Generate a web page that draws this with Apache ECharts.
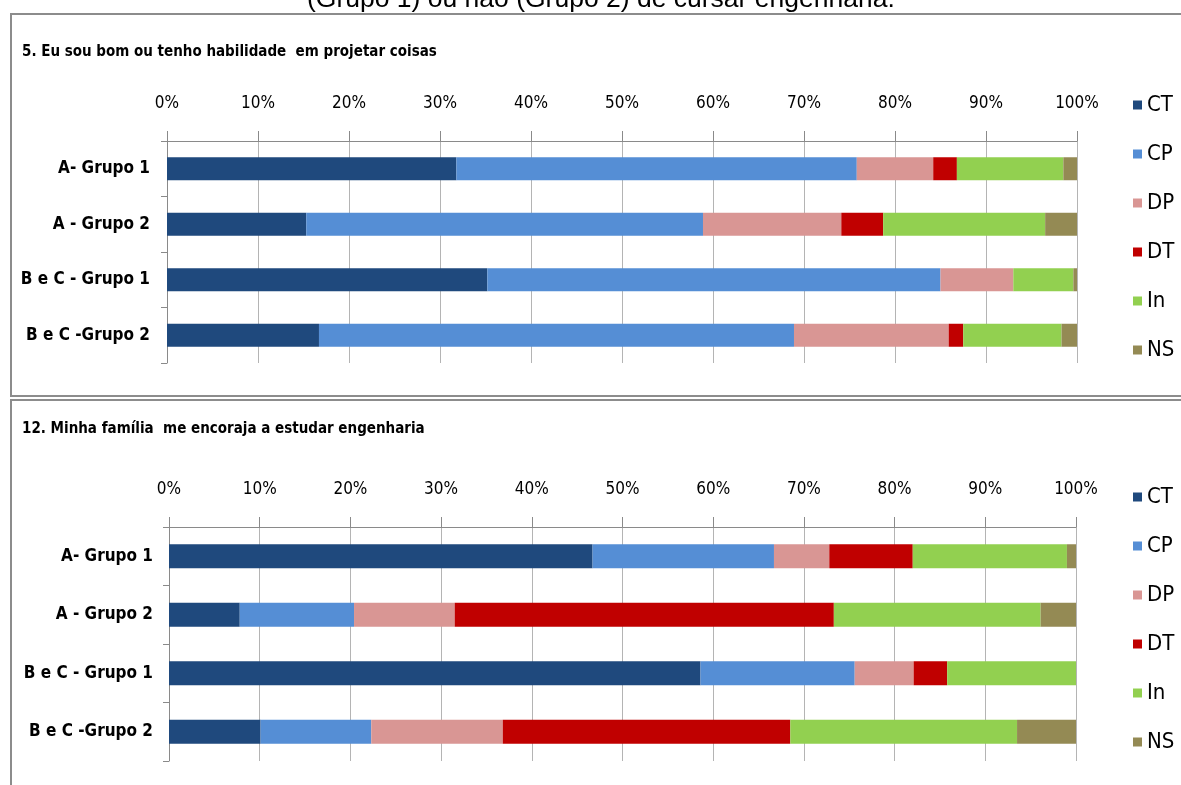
<!DOCTYPE html>
<html>
<head>
<meta charset="utf-8">
<script src="https://cdn.jsdelivr.net/npm/echarts@6/dist/echarts.min.js"></script>
<style>
  html, body { margin: 0; padding: 0; background: #fff; }
  #chart { width: 1181px; height: 785px; }
</style>
</head>
<body>
<div id="chart"></div>
<script>
// Groups (rows, top to bottom) and answer categories (stack order)
const categories = ['A- Grupo 1', 'A - Grupo 2', 'B e C - Grupo 1', 'B e C -Grupo 2'];
const answers = ['CT', 'CP', 'DP', 'DT', 'In', 'NS'];
const tickLabels = ['0%', '10%', '20%', '30%', '40%', '50%', '60%', '70%', '80%', '90%', '100%'];

// 5. Eu sou bom ou tenho habilidade em projetar coisas (% per group)
const q5CT = [31.8, 15.3, 35.2, 16.7];
const q5CP = [44.0, 43.6, 49.8, 52.2];
const q5DP = [8.4, 15.2, 8.0, 17.0];
const q5DT = [2.6, 4.6, 0.0, 1.6];
const q5In = [11.7, 17.8, 6.6, 10.8];
const q5NS = [1.5, 3.5, 0.4, 1.7];

// 12. Minha família me encoraja a estudar engenharia (% per group)
const q12CT = [46.7, 7.8, 58.6, 10.1];
const q12CP = [20.0, 12.6, 17.0, 12.2];
const q12DP = [6.1, 11.1, 6.5, 14.5];
const q12DT = [9.2, 41.8, 3.7, 31.7];
const q12In = [17.0, 22.8, 14.2, 25.0];
const q12NS = [1.0, 3.9, 0.0, 6.5];

const colors = {
  CT: '#1F497D',
  CP: '#558ED5',
  DP: '#D99694',
  DT: '#C00000',
  In: '#92D050',
  NS: '#948A54'
};

const narrow = '"DejaVu Sans Condensed", "Liberation Sans Narrow", "Liberation Sans", Arial, sans-serif';

const q5 = [q5CT, q5CP, q5DP, q5DT, q5In, q5NS];
const q12 = [q12CT, q12CP, q12DP, q12DT, q12In, q12NS];

function xAxisFor(gridIndex) {
  return {
    type: 'value',
    gridIndex: gridIndex,
    position: 'top',
    min: 0,
    max: 100,
    interval: 10,
    axisLine: { show: true, lineStyle: { color: '#8a8a8a', width: 1 } },
    axisTick: { show: true, length: 10, lineStyle: { color: '#8a8a8a' } },
    axisLabel: {
      margin: 29,
      color: '#000',
      fontFamily: narrow,
      fontSize: 17,
      formatter: function (v) { return tickLabels[Math.round(v / 10)]; }
    },
    splitLine: { show: true, lineStyle: { color: '#b4b4b4', width: 1 } }
  };
}

function yAxisFor(gridIndex, margin) {
  return {
    type: 'category',
    gridIndex: gridIndex,
    data: categories,
    inverse: true,
    axisLine: { show: true, lineStyle: { color: '#8a8a8a', width: 1 } },
    axisTick: { show: true, length: 6, lineStyle: { color: '#8a8a8a' } },
    axisLabel: {
      margin: margin,
      color: '#000',
      fontFamily: narrow,
      fontWeight: 'bold',
      fontSize: 17
    },
    splitLine: { show: false }
  };
}

function seriesFor(values, gridIndex, barWidth) {
  return answers.map(function (name, i) {
    return {
      name: name,
      type: 'bar',
      stack: 'g' + gridIndex,
      xAxisIndex: gridIndex,
      yAxisIndex: gridIndex,
      barWidth: barWidth,
      data: values[i],
      itemStyle: { color: colors[name] },
      emphasis: { disabled: true },
      animation: false
    };
  });
}

function legendFor(top) {
  return {
    orient: 'vertical',
    left: 1133,
    top: top,
    padding: 0,
    data: answers,
    icon: 'rect',
    itemWidth: 9,
    itemHeight: 9,
    itemGap: 27,
    selectedMode: false,
    textStyle: { color: '#000', fontFamily: narrow, fontSize: 22 }
  };
}

const chart = echarts.init(document.getElementById('chart'), null, { renderer: 'canvas' });

chart.setOption({
  backgroundColor: '#fff',
  animation: false,
  color: answers.map(function (a) { return colors[a]; }),
  graphic: [
    {
      type: 'text', left: 307, top: -14,
      style: {
        text: '(Grupo 1) ou não (Grupo 2) de cursar engenharia.',
        fill: '#000', font: '26.5px "Liberation Sans", Arial, sans-serif'
      },
      z: 10
    },
    {
      type: 'rect', shape: { x: 11, y: 14, width: 1180, height: 382 },
      style: { fill: 'none', stroke: '#8c8c8c', lineWidth: 2 }, z: 0
    },
    {
      type: 'rect', shape: { x: 11, y: 400, width: 1180, height: 400 },
      style: { fill: 'none', stroke: '#8c8c8c', lineWidth: 2 }, z: 0
    },
    {
      type: 'text', left: 22, top: 45,
      style: {
        text: '5. Eu sou bom ou tenho habilidade  em projetar coisas',
        fill: '#000', font: 'bold 15px ' + narrow
      }
    },
    {
      type: 'text', left: 22, top: 422,
      style: {
        text: '12. Minha família  me encoraja a estudar engenharia',
        fill: '#000', font: 'bold 15px ' + narrow
      }
    }
  ],
  grid: [
    { left: 167, top: 141, width: 910, height: 222, containLabel: false },
    { left: 169, top: 527, width: 907, height: 234, containLabel: false }
  ],
  xAxis: [xAxisFor(0), xAxisFor(1)],
  yAxis: [yAxisFor(0, 17), yAxisFor(1, 16)],
  legend: [legendFor(94), legendFor(486)],
  series: seriesFor(q5, 0, 23).concat(seriesFor(q12, 1, 24))
});
</script>
</body>
</html>
